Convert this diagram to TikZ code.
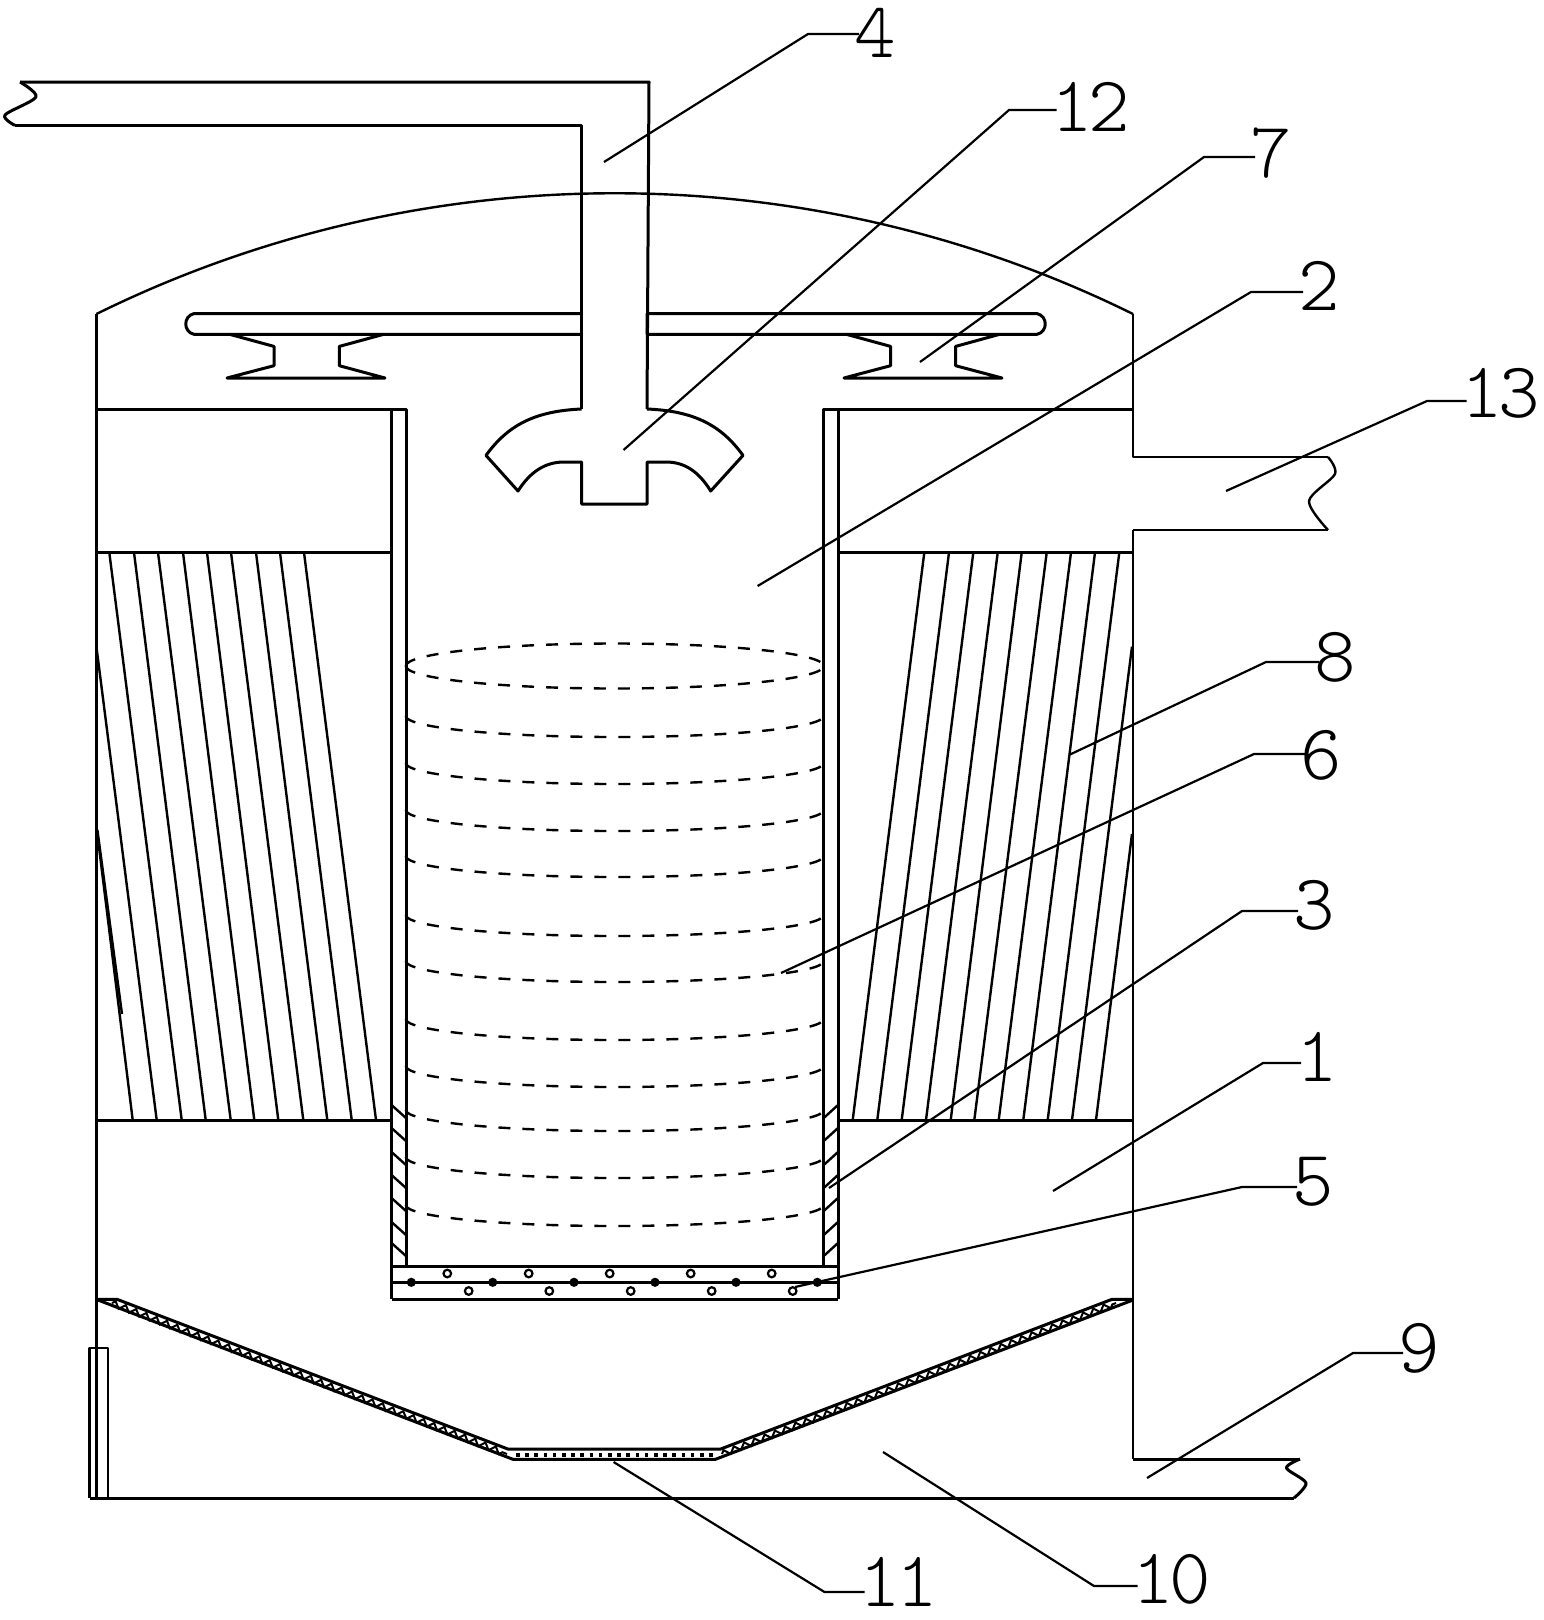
\documentclass[tikz,border=0pt]{standalone}
\usepackage{fontspec}
\usetikzlibrary{decorations.pathmorphing}
\newfontfamily\numfont[LetterSpace=-6]{Latin Modern Mono Light}
\begin{document}
\begin{tikzpicture}[x=1pt,y=-1pt]
	\tikzset{wallline/.style={draw, line width=3pt, line join=round},
		thinwall/.style={draw, line width=2.4pt, line join=round},
		leader/.style={draw, line width=2.2pt},
		coilline/.style={draw, line width=2.4pt, dash pattern=on 12pt off 12pt},
		grit/.style={draw, line width=2pt, decorate, decoration={zigzag, segment length=11pt, amplitude=3pt}},
		gritdots/.style={draw, line width=3.6pt, dash pattern=on 3.6pt off 5.6pt},
		openhole/.style={draw, line width=2.2pt, fill=white},
		numlab/.style={inner sep=0pt, font=\numfont\fontsize{79pt}{79pt}\selectfont}}
	\useasboundingbox (0,0) rectangle (1543,1620);

	% feed pipe and shaft
	\draw[wallline] (20,82) -- (649,82) -- (647,409);
	\draw[wallline] (15,125.4) -- (581.6,125.4) -- (581.6,409);
	\draw[wallline] plot[smooth] coordinates {(20,82) (36,97) (5,115) (15,125.4)};

	% dome
	\draw[thinwall] (96.4,314) .. controls (422.7,153) and (806.7,153) .. (1133,314);

	% spray arm
	\draw[wallline] (581.6,313.6) -- (194,313.6) .. controls (183,316) and (183,332) .. (194,334.3) -- (581.6,334.3);
	\draw[wallline] (647,334.3) -- (647,313.6) -- (1037,313.6) .. controls (1048,316) and (1048,332) .. (1037,334.3) -- (647,334.3);

	% feet under the arm
	\draw[wallline] (229.6,334.3) -- (274,346.4) -- (274,365.7) -- (227,378) -- (385,378) -- (339.3,365.7) -- (339.3,346.4) -- (383.7,334.3);
	\draw[wallline] (846.4,334.3) -- (890.6,346.4) -- (890.6,365.7) -- (844,378) -- (1002,378) -- (955.6,365.7) -- (955.6,346.4) -- (999.7,334.3);

	% impeller
	\draw[wallline] (581.6,409) .. controls (535,411) and (508,425) .. (486,455.4) -- (518,491) .. controls (530,472) and (545,462) .. (564,462)
		-- (581.6,462) -- (581.6,504) -- (647,504) -- (647,462) -- (666,462)
		.. controls (685,462) and (699,472) .. (710.7,491) -- (743,455.4) .. controls (721,425) and (694,411) .. (647,409);

	% outer walls
	\draw[wallline] (96.4,314) -- (96.4,1498);
	\draw[thinwall] (1133,314) -- (1133,457) -- (1328,457);
	\draw[thinwall] (1133,530) -- (1328,530);
	\draw[thinwall] plot[smooth] coordinates {(1328,457) (1335,474) (1309,501) (1328,530)};
	\draw[thinwall] (1133,530) -- (1133,1459);
	\draw[wallline] (1133,1459) -- (1300,1459);
	\draw[wallline] plot[smooth] coordinates {(1300,1459) (1286.5,1468) (1306,1483) (1294,1498)};
	\draw[wallline] (89.5,1498) -- (1294,1498);
	\draw[thinwall] (89.5,1498) -- (89.5,1347.7) -- (107.8,1347.7) -- (107.8,1498);

	% inner tube
	\draw[wallline] (96.4,409) -- (406,409) -- (406,1267);
	\draw[wallline] (391.5,409) -- (391.5,1299);
	\draw[wallline] (1133,409) -- (823.7,409) -- (823.7,1267);
	\draw[wallline] (838,409) -- (838,1299);
	\draw[wallline] (96.4,552.5) -- (391.5,552.5);
	\draw[wallline] (838,552.5) -- (1133,552.5);
	\draw[wallline] (96.4,1120) -- (391.5,1120);
	\draw[wallline] (838,1120) -- (1133,1120);

	% hatching at the foot of the tube
	\foreach \y in {1105,1128,1152,1175,1198,1222,1243} {
		\draw[thinwall] (391.5,\y) -- (406,\y+13);
		\draw[thinwall] (838,\y) -- (823.7,\y+13);
	}

	% filter plate
	\draw[wallline] (391.5,1266.7) -- (838,1266.7);
	\draw[wallline] (391.5,1282.3) -- (838,1282.3);
	\draw[wallline] (391.5,1299) -- (838,1299);
	\foreach \x in {447.3,528.7,609.7,690.7,771.7}
		\draw[openhole] (\x,1273.5) circle (3.8);
	\foreach \x in {468.7,549.3,630.7,711.7,792.7}
		\draw[openhole] (\x,1291) circle (3.8);
	\foreach \x in {411.3,492.7,574,655,736,817.3}
		\fill (\x,1282.3) circle (4.6);

	% left fins
	\foreach \a/\b in {109.3/181.7,134/205.7,158/230.7,183/254.3,207/278.3,231/303.3,256/327.3,280/351.7,304/376}
		\draw[thinwall] (\a,552.5) -- (\b,1120);
	\draw[thinwall] (96.4,646.6) -- (156.7,1120);
	\draw[thinwall] (96.4,826) -- (132.7,1120);
	\draw[thinwall] (97.4,830) -- (122,1014);

	% right fins
	\foreach \a/\b in {924.3/852.7,949/877.3,973.3/901.7,997.7/926,1021.7/950.7,1046.7/974.3,1071/998.7,1095/1023.3,1119.3/1047.7}
		\draw[thinwall] (\a,552.5) -- (\b,1120);
	\draw[thinwall] (1132,646.6) -- (1072,1120);
	\draw[thinwall] (1132,834) -- (1096,1120);

	% coil
	\draw[coilline] (405.7,666) arc (180:0:209 and 22.5);
	\draw[coilline] (405.7,666) arc (180:360:209 and 22.5);
	\foreach \y in {716,763,810,856,915,961,1019,1066,1110,1157,1205}
		\draw[coilline] (405.7,\y) arc (180:0:209 and 21);

	% grit bed
	\draw[wallline] (96.4,1299.3) -- (117,1299.3) -- (507.8,1449) -- (720.7,1449) -- (1112,1299.3) -- (1133,1299.3);
	\draw[wallline] (98,1300) -- (513,1459.3) -- (715.4,1459.3) -- (1133,1300);
	\draw[grit] (112,1303) -- (507,1454);
	\draw[grit] (722,1454) -- (1116,1303);
	\draw[gritdots] (516,1455) -- (714,1455);

	% numbers and leaders
	\foreach \n/\sx/\sy/\ex/\ey/\lx/\ly in {4/604/162/808/34/875/33, 12/623.5/450/1009/110/1091/107, 7/920/362/1204/157/1271/153,
		2/757.6/586/1251/292/1319/286, 13/1226/491/1427/401/1501/393, 8/1070/754.5/1266/662/1335/657,
		6/781/973/1254/754/1321/755, 3/829/1188/1242/911/1314/905, 1/1053/1191/1263/1063/1317/1057,
		5/795/1287/1242/1187/1313/1182, 9/1147/1478/1353/1353/1419/1348, 10/883/1452/1094/1586/1172/1579,
		11/613.6/1462/824.5/1592/899/1582} {
		\node[numlab] (lab\n) at (\lx,\ly) {\n};
		\coordinate (tip\n) at (\sx,\sy);
		\coordinate (bend\n) at (\ex,\ey);
		\draw[leader] (tip\n) -- (bend\n) -- ([xshift=5pt]lab\n.west |- bend\n);
	}

\end{tikzpicture}
\end{document}
